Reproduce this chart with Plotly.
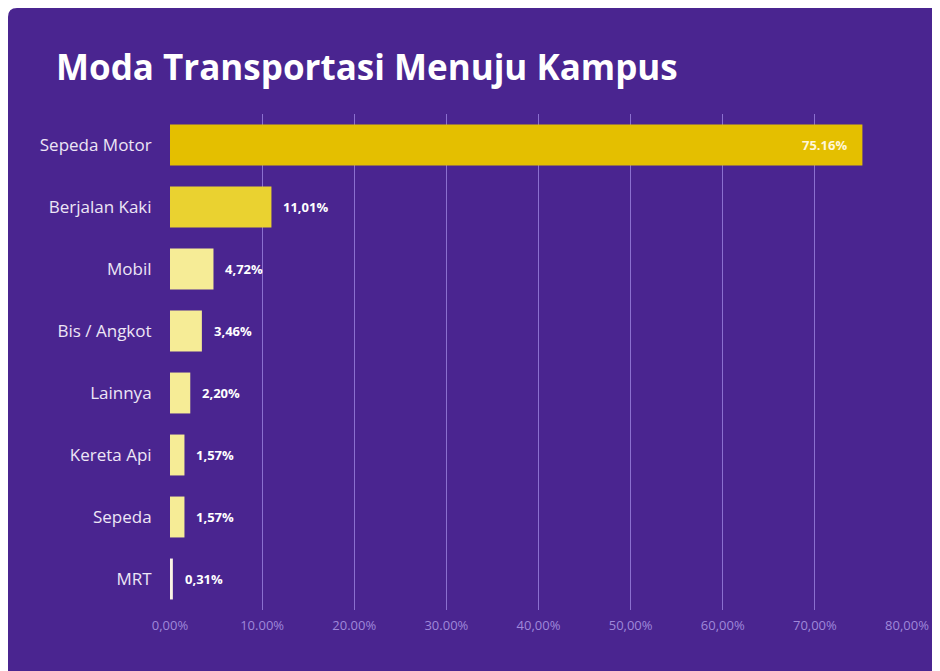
import plotly.graph_objects as go

categories = ["Sepeda Motor", "Berjalan Kaki", "Mobil", "Bis / Angkot", "Lainnya", "Kereta Api", "Sepeda", "MRT"]
values = [75.16, 11.01, 4.72, 3.46, 2.20, 1.57, 1.57, 0.31]
value_labels = ["75.16%", "11,01%", "4,72%", "3,46%", "2,20%", "1,57%", "1,57%", "0,31%"]
bar_colors = ["#E4BF00", "#EAD230", "#F6EC96", "#F6EC96", "#F6EC96", "#F6EC96", "#F6EC96", "#FBF4E4"]
tick_values = [0, 10, 20, 30, 40, 50, 60, 70, 80]
tick_labels = ["0,00%", "10.00%", "20.00%", "30.00%", "40,00%", "50,00%", "60,00%", "70,00%", "80,00%"]

W, H = 940, 671
L, R, T, B = 162, 41, 106, 69
PURPLE = "#4A2590"
FONT = "Open Sans"

fig = go.Figure()
fig.add_trace(go.Bar(
    x=values, y=categories, orientation="h",
    marker=dict(color=bar_colors, line=dict(width=0)),
    width=0.66, hoverinfo="skip",
))

# value labels
for i, (c, v, t) in enumerate(zip(categories, values, value_labels)):
    if i == 0:
        fig.add_annotation(x=v, y=c, text=f"<b>{t}</b>", showarrow=False,
                           xanchor="right", xshift=-13,
                           font=dict(family=FONT, size=13, color="#FFF6DA"))
    else:
        fig.add_annotation(x=v, y=c, text=f"<b>{t}</b>", showarrow=False,
                           xanchor="left", xshift=10,
                           font=dict(family=FONT, size=13, color="#FFFFFF"))

# card background in paper coordinates
pw, ph = W - L - R, H - T - B
def px(x):
    return (x - L) / pw
def py(y):
    return (H - B - y) / ph
x0, x1, y0, y1, r = 0, 1000, 0, 700, 9
path = (f"M {px(x0 + r)} {py(y0)} L {px(x1)} {py(y0)} L {px(x1)} {py(y1)} "
        f"L {px(x0)} {py(y1)} "
        f"L {px(x0)} {py(y0 + r)} Q {px(x0)} {py(y0)} {px(x0 + r)} {py(y0)} Z")
fig.add_shape(type="path", path=path, xref="paper", yref="paper",
              fillcolor=PURPLE, line=dict(width=0), layer="below")

fig.add_annotation(x=px(46), y=py(58), xref="paper", yref="paper",
                   text="<b>Moda Transportasi Menuju Kampus</b>", showarrow=False,
                   xanchor="left", yanchor="middle",
                   font=dict(family=FONT, size=35, color="#FFFFFF"))

fig.update_layout(
    width=W, height=H,
    margin=dict(l=L, r=R, t=T, b=B),
    paper_bgcolor="#FFFFFF",
    plot_bgcolor="rgba(0,0,0,0)",
    showlegend=False,
    xaxis=dict(range=[0, 80], tickvals=tick_values, ticktext=tick_labels,
               showgrid=True, gridcolor="#8B70CF", gridwidth=1,
               zeroline=False, showline=False,
               tickfont=dict(family=FONT, size=13, color="#9F88DA"),
               ticklabelstandoff=6, fixedrange=True),
    yaxis=dict(autorange="reversed", showgrid=False, zeroline=False, showline=False,
               ticks="outside", ticklen=14, tickcolor="rgba(0,0,0,0)",
               tickfont=dict(family=FONT, size=17, color="#EDE6F6"),
               fixedrange=True),
)

fig.write_html("out.html")
